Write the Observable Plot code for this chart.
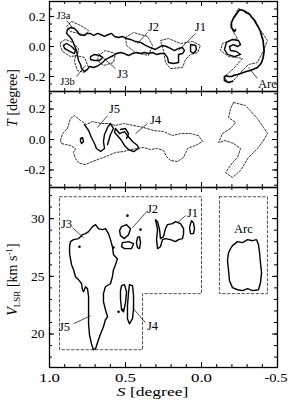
<!DOCTYPE html>
<html><head><meta charset="utf-8">
<script src="https://cdn.jsdelivr.net/npm/d3@7"></script>
<script src="https://cdn.jsdelivr.net/npm/@observablehq/plot@0.6"></script>
<style>
body{margin:0;background:#fff;}
#wrap{position:relative;width:288px;height:400px;overflow:hidden;}
#wrap svg{position:absolute;left:0;overflow:visible;}
#wrap svg, #wrap svg text{font-family:"Liberation Serif","Times New Roman",serif !important;}
</style></head><body><div id="wrap"></div>
<script>
// ---------- axis definitions ----------
const sDomain = [1.0, -0.5];
const sTickLabels = [1.0, 0.5, 0.0, -0.5];
const tDomain1 = [-0.3, 0.3];
const tDomain2 = [-0.315, 0.315];
const tTickLabels = [-0.2, 0.0, 0.2];
const vDomain = [17.1, 32.7];
const vTickLabels = [20, 25, 30];

// ---------- panel 1 (S, T): solid contours ----------
const p1_J_complex = [[0.882,0.113],[0.862,0.127],[0.836,0.12],[0.816,0.1],[0.803,0.08],[0.776,0.073],[0.757,0.087],[0.73,0.087],[0.711,0.073],[0.684,0.087],[0.664,0.08],[0.638,0.067],[0.612,0.08],[0.592,0.087],[0.572,0.067],[0.546,0.06],[0.52,0.067],[0.493,0.053],[0.467,0.047],[0.434,0.033],[0.401,0.027],[0.368,0.007],[0.336,-0.007],[0.303,-0.02],[0.283,-0.007],[0.257,0.007],[0.23,0],[0.204,-0.013],[0.178,-0.027],[0.151,-0.013],[0.125,-0.007],[0.112,-0.027],[0.125,-0.047],[0.151,-0.053],[0.151,-0.08],[0.151,-0.107],[0.184,-0.113],[0.217,-0.107],[0.224,-0.073],[0.243,-0.047],[0.27,-0.047],[0.296,-0.053],[0.322,-0.04],[0.349,-0.047],[0.375,-0.04],[0.401,-0.047],[0.428,-0.04],[0.454,-0.047],[0.48,-0.06],[0.507,-0.047],[0.533,-0.04],[0.559,-0.047],[0.579,-0.06],[0.605,-0.073],[0.632,-0.087],[0.651,-0.107],[0.678,-0.127],[0.711,-0.14],[0.737,-0.133],[0.75,-0.153],[0.77,-0.167],[0.789,-0.147],[0.796,-0.12],[0.809,-0.093],[0.816,-0.06],[0.822,-0.027],[0.836,0.007],[0.849,0.04],[0.868,0.067],[0.888,0.087]];
const p1_J_hole = [[0.73,-0.067],[0.704,-0.053],[0.671,-0.06],[0.651,-0.073],[0.671,-0.093],[0.704,-0.093],[0.73,-0.087]];
const p1_J_left = [[0.908,0.007],[0.888,0.02],[0.855,0],[0.829,-0.027],[0.836,-0.047],[0.868,-0.033],[0.901,-0.013]];
const p1_J1_small = [[0.072,0.013],[0.039,0.007],[0.033,-0.02],[0.053,-0.047],[0.072,-0.033]];
const p1_Arc_inner = [[-0.204,0.047],[-0.243,0.04],[-0.257,0.013],[-0.237,0],[-0.211,0.013],[-0.184,0],[-0.191,-0.027],[-0.23,-0.033],[-0.257,-0.053],[-0.217,-0.067],[-0.171,-0.053],[-0.151,-0.02],[-0.164,0.027]];
// the Arc ridge is drawn as one open, thick line
const p1_Arc_line = [[-0.224,0.113],[-0.217,0.1],[-0.197,0.127],[-0.197,0.16],[-0.211,0.19],[-0.237,0.227],[-0.25,0.245],[-0.276,0.24],[-0.296,0.225],[-0.316,0.215],[-0.335,0.19],[-0.349,0.175],[-0.362,0.15],[-0.375,0.127],[-0.388,0.1],[-0.395,0.073],[-0.405,0.04],[-0.408,0.007],[-0.412,-0.03],[-0.408,-0.06],[-0.401,-0.09],[-0.395,-0.107],[-0.382,-0.125],[-0.368,-0.14],[-0.345,-0.15],[-0.322,-0.16],[-0.3,-0.165],[-0.276,-0.173],[-0.257,-0.18],[-0.237,-0.187],[-0.217,-0.19],[-0.197,-0.2],[-0.178,-0.2],[-0.164,-0.195],[-0.151,-0.2],[-0.151,-0.227],[-0.178,-0.24],[-0.204,-0.233]];
// panel 1: dashed outlines
const p1d_left = [[0.928,0.027],[0.895,0.047],[0.849,0.027],[0.809,-0.013],[0.816,-0.06],[0.862,-0.067],[0.914,-0.033],[0.928,0]];
const p1d_J3a = [[0.888,0.133],[0.855,0.167],[0.796,0.14],[0.743,0.107],[0.763,0.073],[0.809,0.087],[0.862,0.1]];
const p1d_J2 = [[0.5,0.06],[0.447,0.093],[0.355,0.067],[0.322,0.007],[0.349,-0.06],[0.434,-0.04],[0.493,0.007]];
const p1d_J1 = [[0.27,0.04],[0.217,0.053],[0.138,0.02],[0.059,0.033],[0.007,0.007],[0.026,-0.04],[0.072,-0.053],[0.105,-0.087],[0.125,-0.14],[0.204,-0.147],[0.237,-0.107],[0.25,-0.027]];
const p1d_J3 = [[0.678,-0.06],[0.632,-0.027],[0.566,-0.047],[0.579,-0.107],[0.645,-0.127],[0.684,-0.093]];
const p1d_J3b = [[0.829,-0.06],[0.77,-0.073],[0.743,-0.14],[0.77,-0.173],[0.816,-0.16],[0.836,-0.1]];
const p1d_Arc = [[-0.243,0.253],[-0.309,0.227],[-0.375,0.127],[-0.434,0.04],[-0.408,-0.027],[-0.368,-0.107],[-0.309,-0.12],[-0.257,-0.173],[-0.211,-0.227],[-0.171,-0.24],[-0.151,-0.2],[-0.211,-0.147],[-0.27,-0.08],[-0.23,-0.073],[-0.178,-0.067],[-0.125,-0.027],[-0.138,0.02],[-0.191,0.04],[-0.237,0.053],[-0.211,0.093],[-0.191,0.14],[-0.211,0.193]];
const p1Labels = [["J3a",0.908,0.207,10.5],["J2",0.316,0.127,12.5],["J1",0.007,0.127,12.5],["J3",0.52,-0.18,12.5],["J3b",0.882,-0.233,10.5],["Arc",-0.434,-0.247,12.5]];
const p1Leaders = [[0.888,0.173,0.849,0.127],[0.355,0.093,0.421,0.02],[0.039,0.087,0.151,-0.027],[0.566,-0.147,0.678,-0.047],[0.822,-0.2,0.763,-0.127],[-0.368,-0.213,-0.309,-0.14]];

// ---------- panel 2 (S, T) ----------
const p2d_J = [[0.928,-0.007],[0.914,0.039],[0.882,0.072],[0.862,0.138],[0.836,0.157],[0.796,0.125],[0.757,0.098],[0.717,0.118],[0.664,0.105],[0.618,0.105],[0.566,0.092],[0.513,0.105],[0.447,0.092],[0.382,0.079],[0.316,0.059],[0.25,0.052],[0.191,0.026],[0.138,0.039],[0.072,0.039],[0.02,0.026],[-0.007,-0.013],[0.039,-0.039],[0.092,-0.059],[0.118,-0.118],[0.158,-0.144],[0.204,-0.138],[0.23,-0.112],[0.25,-0.072],[0.289,-0.059],[0.336,-0.066],[0.382,-0.052],[0.421,-0.059],[0.467,-0.066],[0.513,-0.079],[0.566,-0.085],[0.612,-0.105],[0.664,-0.125],[0.717,-0.144],[0.763,-0.164],[0.803,-0.157],[0.829,-0.125],[0.842,-0.085],[0.829,-0.059],[0.862,-0.039],[0.895,-0.033],[0.921,-0.026]];
const p2d_Arc = [[-0.211,0.243],[-0.289,0.223],[-0.368,0.138],[-0.408,0.079],[-0.434,0.039],[-0.408,-0.007],[-0.368,-0.059],[-0.309,-0.118],[-0.257,-0.203],[-0.204,-0.249],[-0.158,-0.217],[-0.204,-0.151],[-0.237,-0.118],[-0.257,-0.059],[-0.211,-0.026],[-0.158,-0.007],[-0.112,-0.02],[-0.138,0.039],[-0.191,0.072],[-0.224,0.112],[-0.178,0.144],[-0.191,0.203]];
const p2_J4 = [[0.566,0.072],[0.539,0.039],[0.507,0.052],[0.487,0.026],[0.454,-0.013],[0.421,-0.039],[0.414,-0.059],[0.447,-0.079],[0.48,-0.066],[0.507,-0.039],[0.526,-0.007],[0.553,0.026],[0.572,0.046]];
const p2_blob = [[0.796,0.007],[0.783,0.013],[0.776,-0.013],[0.789,-0.026],[0.796,-0.013]];
const p2_J5_line = [[0.77,0.098],[0.743,0.059],[0.724,0.013],[0.704,-0.026],[0.691,-0.059],[0.664,-0.079],[0.638,-0.059],[0.645,-0.013],[0.638,0.033],[0.618,0.079],[0.599,0.105],[0.579,0.072],[0.599,0.033],[0.612,-0.013],[0.618,-0.033]];
const p2_J4_line = [[0.533,0.066],[0.5,0.072],[0.48,0.039],[0.493,0.007]];
const p2Labels = [["J5",0.572,0.203,12.5],["J4",0.303,0.125,12.5]];
const p2Leaders = [[0.618,0.157,0.684,0.079],[0.355,0.105,0.434,0.039]];

// ---------- panel 3 (S, V_LSR) ----------
const p3_J3J5 = [[0.862,28.01],[0.842,28.18],[0.809,28.27],[0.783,28.61],[0.763,28.7],[0.743,28.87],[0.717,29.31],[0.697,29.48],[0.678,29.13],[0.651,29.05],[0.632,29.13],[0.612,28.7],[0.599,28.18],[0.586,27.57],[0.579,26.88],[0.553,26.53],[0.566,26.01],[0.579,25.58],[0.586,24.97],[0.599,24.36],[0.632,24.1],[0.645,23.5],[0.645,22.8],[0.632,22.11],[0.618,21.5],[0.632,21.24],[0.645,20.63],[0.664,20.03],[0.678,19.51],[0.697,18.73],[0.711,18.64],[0.724,19.16],[0.737,19.94],[0.743,20.89],[0.743,22.11],[0.743,23.24],[0.75,23.93],[0.763,24.1],[0.776,23.67],[0.783,23.84],[0.789,24.36],[0.809,24.71],[0.829,24.97],[0.842,25.58],[0.855,26.01],[0.868,26.96],[0.868,27.57]];
const p3_J4a = [[0.526,24.19],[0.507,24.28],[0.493,23.67],[0.5,22.71],[0.513,21.93],[0.526,22.11],[0.533,23.06],[0.533,23.76]];
const p3_J4b = [[0.474,24.28],[0.454,24.19],[0.447,23.32],[0.447,22.19],[0.454,21.33],[0.474,20.89],[0.487,21.33],[0.487,22.45],[0.48,23.59]];
const p3_J2a = [[0.526,29.31],[0.493,29.48],[0.467,29.13],[0.48,28.61],[0.507,28.27],[0.533,28.53],[0.539,28.96]];
const p3_J2b = [[0.52,27.92],[0.48,28.01],[0.447,27.83],[0.461,27.4],[0.507,27.4],[0.526,27.57]];
const p3_J2c = [[0.421,28.35],[0.408,28.44],[0.401,27.92],[0.408,27.4],[0.421,27.48],[0.428,27.92]];
const p3_J1 = [[0.303,29.91],[0.289,29.05],[0.296,28.18],[0.289,27.4],[0.27,27.57],[0.257,28.18],[0.237,28.27],[0.204,28.18],[0.171,28.01],[0.151,28.18],[0.125,28.27],[0.118,28.7],[0.118,29.13],[0.138,29.57],[0.171,29.74],[0.191,29.57],[0.224,29.48],[0.237,29.13],[0.25,28.44],[0.27,28.27],[0.276,29.05],[0.289,29.74]];
const p3_J1b = [[0.066,29.83],[0.053,29.65],[0.046,29.13],[0.053,28.7],[0.072,28.7],[0.079,29.22]];
const p3_Arc = [[-0.204,27.66],[-0.237,28.01],[-0.27,27.92],[-0.303,28.18],[-0.336,28.09],[-0.362,28.18],[-0.375,27.75],[-0.382,27.05],[-0.388,26.18],[-0.395,25.32],[-0.388,24.45],[-0.375,23.84],[-0.336,23.76],[-0.303,23.93],[-0.27,23.76],[-0.237,23.84],[-0.204,24.02],[-0.184,24.62],[-0.178,25.49],[-0.171,26.36],[-0.178,27.05],[-0.191,27.4]];
const p3_dots = [[0.546,21.93],[0.52,22.11],[0.487,30.26],[0.401,29.05],[0.803,27.57],[0.579,27.5]];
const p3_boxJ = [[0.934,31.9],[0.0,31.9],[0.0,23.5],[0.388,23.5],[0.388,18.64],[0.934,18.64]];
const p3_boxArc = [[-0.118,31.9],[-0.434,31.9],[-0.434,23.5],[-0.118,23.5]];
const p3Labels = [["J3",0.888,29.57,12.5],["J2",0.322,30.87,12.5],["J1",0.059,30.52,12.5],["Arc",-0.276,29.13,12.5],["J5",0.901,20.63,12.5],["J4",0.322,20.72,12.5]];
const p3Leaders = [[0.849,29.22,0.776,28.35],[0.355,30.69,0.454,29.22],[0.105,30.26,0.158,29.65],[0.842,20.89,0.73,21.59],[0.368,20.98,0.454,22.28]];

// axis titles: [text, S position, y position] (placed outside the frame)
const titleT = ["T [degree]", 1.243, -0.343];
const titleV = ["V [km s-1]", 1.243, 24.72];
const titleS = ["S [degree]", 0.322, 15.0];

// ---------- helpers ----------
const rows = groups => groups.flatMap((g, id) => g.map(([s, v]) => ({id, s, v})));
const labelRows = L => L.map(([text, s, v, size]) => ({text, s, v, size}));
const leaderRows = L => L.map(([s1, v1, s2, v2]) => ({s1, v1, s2, v2}));
const W = 228;
function tickMarks(yDomain, yMajor, yMinorStep, H) {
  const xMinor = d3.range(-5, 11).map(i => i / 10);
  const lo = Math.min(...yDomain), hi = Math.max(...yDomain);
  const n0 = Math.ceil(lo / yMinorStep - 1e-6), n1 = Math.floor(hi / yMinorStep + 1e-6);
  const yMinor = d3.range(n0, n1 + 1).map(i => +(i * yMinorStep).toFixed(4));
  const st = {stroke: "black", strokeWidth: 1};
  return [
    Plot.tickX(sTickLabels, {x: d => d, insetTop: H - 5, ...st}),
    Plot.tickX(sTickLabels, {x: d => d, insetBottom: H - 5, ...st}),
    Plot.tickX(xMinor, {x: d => d, insetTop: H - 3, ...st}),
    Plot.tickX(xMinor, {x: d => d, insetBottom: H - 3, ...st}),
    Plot.tickY(yMajor, {y: d => d, insetRight: W - 5, ...st}),
    Plot.tickY(yMajor, {y: d => d, insetLeft: W - 5, ...st}),
    Plot.tickY(yMinor, {y: d => d, insetRight: W - 3, ...st}),
    Plot.tickY(yMinor, {y: d => d, insetLeft: W - 3, ...st})
  ];
}
const solid = g => Plot.line(rows(g), {x: "s", y: "v", z: "id", curve: "linear-closed", stroke: "black", strokeWidth: 1.4, strokeLinejoin: "round"});
const openLine = (g, w) => Plot.line(rows(g), {x: "s", y: "v", z: "id", stroke: "black", strokeWidth: w, strokeLinejoin: "round", strokeLinecap: "round"});
const dashed = g => Plot.line(rows(g), {x: "s", y: "v", z: "id", curve: "linear-closed", stroke: "#333", strokeWidth: 1, strokeDasharray: "2,1.6"});
const labels = L => Plot.text(labelRows(L), {x: "s", y: "v", text: "text", fontSize: "size", fill: "black"});
const leaders = L => Plot.link(leaderRows(L), {x1: "s1", y1: "v1", x2: "s2", y2: "v2", stroke: "black", strokeWidth: 0.7});
const title = ([text, s, v], rot, size) => Plot.text([text], {x: () => s, y: () => v, text: d => d, rotate: rot, fontSize: size, fill: "black"});
const style = {fontFamily: "Liberation Serif, serif", fontSize: "13.5px", background: "transparent", overflow: "visible"};

const wrap = document.getElementById("wrap");

// panel 1
const plot1 = Plot.plot({
  width: 288, height: 92, marginLeft: 49, marginRight: 11, marginTop: 1, marginBottom: 1,
  x: {domain: sDomain, axis: null}, y: {domain: tDomain1}, style,
  marks: [
    dashed([p1d_left, p1d_J3a, p1d_J2, p1d_J1, p1d_J3, p1d_J3b, p1d_Arc]),
    solid([p1_J_complex, p1_J_hole, p1_J_left, p1_J1_small, p1_Arc_inner]),
    openLine([p1_Arc_line], 1.7),
    leaders(p1Leaders), labels(p1Labels),
    ...tickMarks(tDomain1, tTickLabels, 0.05, 90),
    Plot.axisY({ticks: tTickLabels, tickSize: 0, tickPadding: 4, tickFormat: d => d.toFixed(1), label: null}),
    title(titleT, -90, 14),
    Plot.frame({stroke: "black", strokeWidth: 1.3})
  ]
});
plot1.style.top = "0px";
wrap.appendChild(plot1);

// panel 2
const plot2 = Plot.plot({
  width: 288, height: 96, marginLeft: 49, marginRight: 11, marginTop: 0, marginBottom: 0,
  x: {domain: sDomain, axis: null}, y: {domain: tDomain2}, style,
  marks: [
    dashed([p2d_J, p2d_Arc]),
    solid([p2_J4, p2_blob]),
    openLine([p2_J5_line, p2_J4_line], 1.4),
    leaders(p2Leaders), labels(p2Labels),
    ...tickMarks(tDomain2, tTickLabels, 0.05, 96),
    Plot.axisY({ticks: tTickLabels, tickSize: 0, tickPadding: 4, tickFormat: d => d.toFixed(1), label: null}),
    Plot.frame({stroke: "black", strokeWidth: 1.3})
  ]
});
plot2.style.top = "91px";
wrap.appendChild(plot2);

// panel 3
const plot3 = Plot.plot({
  width: 288, height: 213, marginLeft: 49, marginRight: 11, marginTop: 0, marginBottom: 33,
  x: {domain: sDomain}, y: {domain: vDomain}, style,
  marks: [
    Plot.line(rows([p3_boxJ, p3_boxArc]), {x: "s", y: "v", z: "id", curve: "linear-closed", stroke: "#555", strokeWidth: 1, strokeDasharray: "2.6,2.2"}),
    solid([p3_J3J5, p3_J4a, p3_J4b, p3_J2a, p3_J2b, p3_J2c, p3_J1, p3_J1b, p3_Arc]),
    Plot.dot(p3_dots, {x: d => d[0], y: d => d[1], r: 1.3, fill: "black"}),
    leaders(p3Leaders), labels(p3Labels),
    ...tickMarks(vDomain, vTickLabels, 1, 180),
    Plot.axisY({ticks: vTickLabels, tickSize: 0, tickPadding: 5, label: null}),
    Plot.axisX({ticks: sTickLabels, tickSize: 0, tickPadding: 5, tickFormat: d => d.toFixed(1), label: null}),
    title(titleV, -90, 14),
    title(titleS, 0, 13.5),
    Plot.frame({stroke: "black", strokeWidth: 1.3})
  ]
});
plot3.style.top = "187px";
wrap.appendChild(plot3);

// horizontally widen the bottom-axis texts (the reference lettering there is wider)
function widen(node, k, shift) {
  const tr = node.getAttribute("transform");
  const extra = (shift ? ` translate(${shift},0)` : "") + ` scale(${k},1)`;
  if (tr && tr.includes("translate")) {
    node.setAttribute("transform", tr + extra);
  } else {
    const x = +(node.getAttribute("x") || 0), y = +(node.getAttribute("y") || 0);
    node.removeAttribute("x"); node.removeAttribute("y");
    node.setAttribute("transform", `translate(${x},${y})` + extra + (tr ? " " + tr : ""));
  }
}
d3.select(plot3).selectAll('g[aria-label="x-axis tick label"] text').each(function () {
  const last = this.textContent.trim().startsWith("-");
  widen(this, last ? 1.08 : 1.25, last ? -1.5 : 0);
});
d3.select(plot3).selectAll("text").filter(function () { return this.textContent === titleS[0]; }).each(function () { widen(this, 1.3, 0); });

// rich axis titles (italic symbols, sub/superscripts)
function richText(content, parts) {
  d3.select(wrap).selectAll("text").filter(function () { return this.textContent === content; }).each(function () {
    const t = d3.select(this); t.text("");
    for (const p of parts) {
      const ts = t.append("tspan").text(p.t);
      if (p.i) ts.attr("font-style", "italic");
      if (p.fs) ts.attr("font-size", p.fs);
      if (p.dy) ts.attr("dy", p.dy);
    }
  });
}
richText("T [degree]", [{t: "T", i: true}, {t: " [degree]"}]);
richText("S [degree]", [{t: "S", i: true}, {t: " [degree]"}]);
richText("V [km s-1]", [{t: "V", i: true}, {t: "LSR", fs: 9, dy: 3}, {t: " [km s", dy: -3}, {t: "-1", fs: 9, dy: -5}, {t: "]", dy: 5}]);
</script></body></html>
